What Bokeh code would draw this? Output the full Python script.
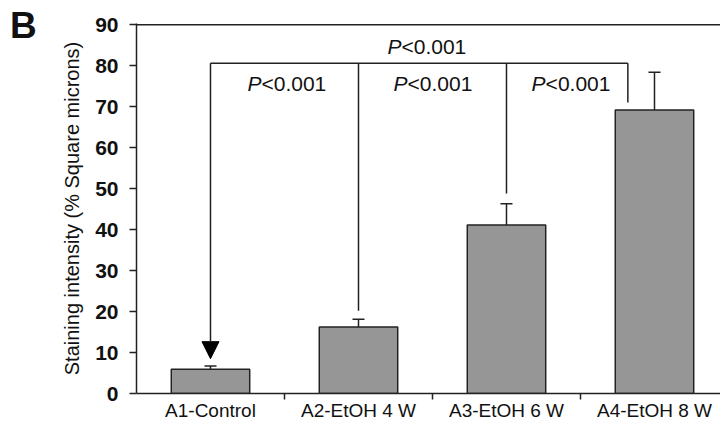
from bokeh.plotting import figure
from bokeh.layouts import row
from bokeh.models import (Range1d, FixedTicker, Whisker, TeeHead, ColumnDataSource,
                          Span, Arrow, NormalHead, Div)
from bokeh.core.properties import value
from bokeh.embed import file_html
from bokeh.resources import INLINE

# ---- data ----
categories = ["A1-Control", "A2-EtOH 4 W", "A3-EtOH 6 W", "A4-EtOH 8 W"]
means = [5.9, 16.2, 41.1, 69.2]
errors = [0.8, 1.9, 5.2, 9.2]
y_ticks = [0, 10, 20, 30, 40, 50, 60, 70, 80, 90]

# significance bracket
bracket_level = 80.6
bracket_x = [0.5, 1.5, 2.5, 3.32]
bracket_bottom = [8.5, 20.2, 48.8, 71.0]
p_label_x = [1.02, 2.007, 2.94, 1.966]
p_label_y = [75.7, 75.7, 75.7, 84.6]
p_italic = ["P", "P", "P", "P"]
p_rest = ["<0.001", "<0.001", "<0.001", "<0.001"]
panel_letter = "B"

centers = [i + 0.5 for i in range(len(categories))]
upper = [m + e for m, e in zip(means, errors)]

FONT = "Liberation Sans"
DARK = "#222222"

# ---- panel letter ----
letter = Div(text=panel_letter, width=50, height=423, margin=0,
             styles={"font-family": FONT, "font-size": "37px", "font-weight": "bold",
                     "color": "#111111", "padding-left": "10px", "padding-top": "5px",
                     "line-height": "normal", "box-sizing": "border-box"})

# ---- main chart ----
p = figure(width=670, height=423, output_backend="svg", toolbar_location=None,
           title_location=None,
           x_range=Range1d(0, 3.946), y_range=Range1d(0, 90.3),
           min_border_left=86, min_border_right=0, min_border_top=23,
           min_border_bottom=28)
p.outline_line_color = None
p.xgrid.visible = False
p.ygrid.visible = False
p.background_fill_color = "white"
p.border_fill_color = "white"

src = ColumnDataSource(dict(x=centers, top=means, upper=upper))
p.vbar(x="x", top="top", width=0.53, bottom=0, source=src,
       fill_color="#969696", line_color=DARK, line_width=1.5)
p.add_layout(Whisker(source=src, base="x", lower="top", upper="upper",
                     line_color=DARK, line_width=1.5, lower_head=None,
                     upper_head=TeeHead(size=12, line_color=DARK, line_width=1.5)))

# top frame line
p.add_layout(Span(location=90, dimension="width", line_color=DARK, line_width=1.5))

# bracket
p.segment(x0=[bracket_x[0]], y0=[bracket_level], x1=[bracket_x[-1]], y1=[bracket_level],
          line_color=DARK, line_width=1.5)
p.segment(x0=bracket_x[1:], y0=[bracket_level] * 3, x1=bracket_x[1:], y1=bracket_bottom[1:],
          line_color=DARK, line_width=1.5)
p.add_layout(Arrow(x_start=bracket_x[0], y_start=bracket_level,
                   x_end=bracket_x[0], y_end=bracket_bottom[0],
                   line_color=DARK, line_width=1.5,
                   end=NormalHead(size=17, fill_color="black", line_color="black")))

p.text(x=p_label_x, y=p_label_y, text=p_italic, x_offset=-26,
       text_font=value(FONT), text_font_size="21px", text_font_style="italic",
       text_align="right", text_baseline="middle", text_color="#111111")
p.text(x=p_label_x, y=p_label_y, text=p_rest, x_offset=-26,
       text_font=value(FONT), text_font_size="21px",
       text_align="left", text_baseline="middle", text_color="#111111")

# x axis
xa = p.xaxis[0]
xa.ticker = FixedTicker(ticks=centers, minor_ticks=[1, 2, 3])
xa.major_label_overrides = {c: lab for c, lab in zip(centers, categories)}
xa.major_tick_out = 0
xa.major_tick_in = 0
xa.minor_tick_out = 6
xa.minor_tick_in = 0
xa.minor_tick_line_color = DARK
xa.minor_tick_line_width = 1.5
xa.axis_line_color = DARK
xa.axis_line_width = 1.5
xa.major_label_standoff = 0
xa.axis_label_standoff = 0
xa.major_label_text_font = FONT
xa.major_label_text_font_size = "19px"
xa.major_label_text_color = "#111111"

# y axis
ya = p.yaxis[0]
ya.ticker = FixedTicker(ticks=y_ticks, minor_ticks=[])
ya.major_tick_out = 7
ya.major_tick_in = 0
ya.major_tick_line_color = DARK
ya.major_tick_line_width = 1.5
ya.axis_line_color = DARK
ya.axis_line_width = 1.5
ya.major_label_standoff = 11
ya.major_label_text_font = FONT
ya.major_label_text_font_size = "21px"
ya.major_label_text_font_style = "bold"
ya.major_label_text_color = "#111111"
ya.axis_label = "Staining intensity (% Square microns)"
ya.axis_label_text_font = FONT
ya.axis_label_text_font_size = "20px"
ya.axis_label_text_font_style = "normal"
ya.axis_label_text_color = "#111111"
ya.axis_label_standoff = 9

layout = row(letter, p, spacing=0)
open("out.html", "w").write(file_html(layout, INLINE))
